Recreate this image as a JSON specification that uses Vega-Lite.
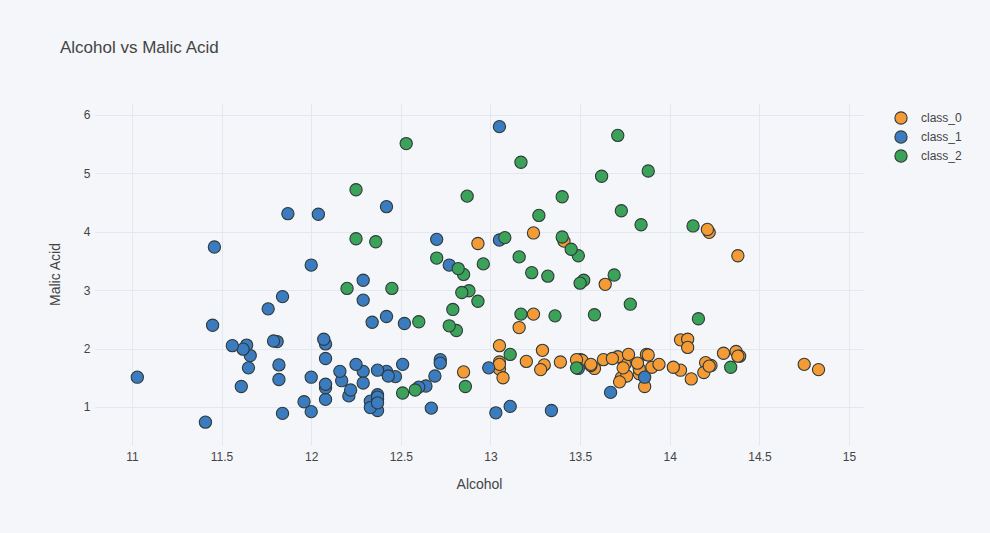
{
  "$schema": "https://vega.github.io/schema/vega-lite/v6.json",
  "width": 768,
  "height": 342,
  "autosize": {"type": "none"},
  "padding": {"left": 95, "top": 103, "right": 127, "bottom": 88},
  "background": "#f4f6fa",
  "title": {
    "text": "Alcohol vs Malic Acid",
    "anchor": "start",
    "frame": "group",
    "dx": -35,
    "offset": 46,
    "font": "Liberation Sans",
    "fontSize": 17,
    "fontWeight": "normal",
    "color": "#444"
  },
  "data": {
    "values": [
      {"alcohol": 14.23, "malic_acid": 1.71, "target": "class_0"},
      {"alcohol": 13.2, "malic_acid": 1.78, "target": "class_0"},
      {"alcohol": 13.16, "malic_acid": 2.36, "target": "class_0"},
      {"alcohol": 14.37, "malic_acid": 1.95, "target": "class_0"},
      {"alcohol": 13.24, "malic_acid": 2.59, "target": "class_0"},
      {"alcohol": 14.2, "malic_acid": 1.76, "target": "class_0"},
      {"alcohol": 14.39, "malic_acid": 1.87, "target": "class_0"},
      {"alcohol": 14.06, "malic_acid": 2.15, "target": "class_0"},
      {"alcohol": 14.83, "malic_acid": 1.64, "target": "class_0"},
      {"alcohol": 13.86, "malic_acid": 1.35, "target": "class_0"},
      {"alcohol": 14.1, "malic_acid": 2.16, "target": "class_0"},
      {"alcohol": 14.12, "malic_acid": 1.48, "target": "class_0"},
      {"alcohol": 13.75, "malic_acid": 1.73, "target": "class_0"},
      {"alcohol": 14.75, "malic_acid": 1.73, "target": "class_0"},
      {"alcohol": 14.38, "malic_acid": 1.87, "target": "class_0"},
      {"alcohol": 13.63, "malic_acid": 1.81, "target": "class_0"},
      {"alcohol": 14.3, "malic_acid": 1.92, "target": "class_0"},
      {"alcohol": 13.83, "malic_acid": 1.57, "target": "class_0"},
      {"alcohol": 14.19, "malic_acid": 1.59, "target": "class_0"},
      {"alcohol": 13.64, "malic_acid": 3.1, "target": "class_0"},
      {"alcohol": 14.06, "malic_acid": 1.63, "target": "class_0"},
      {"alcohol": 12.93, "malic_acid": 3.8, "target": "class_0"},
      {"alcohol": 13.71, "malic_acid": 1.86, "target": "class_0"},
      {"alcohol": 12.85, "malic_acid": 1.6, "target": "class_0"},
      {"alcohol": 13.5, "malic_acid": 1.81, "target": "class_0"},
      {"alcohol": 13.05, "malic_acid": 2.05, "target": "class_0"},
      {"alcohol": 13.39, "malic_acid": 1.77, "target": "class_0"},
      {"alcohol": 13.3, "malic_acid": 1.72, "target": "class_0"},
      {"alcohol": 13.87, "malic_acid": 1.9, "target": "class_0"},
      {"alcohol": 14.02, "malic_acid": 1.68, "target": "class_0"},
      {"alcohol": 13.73, "malic_acid": 1.5, "target": "class_0"},
      {"alcohol": 13.58, "malic_acid": 1.66, "target": "class_0"},
      {"alcohol": 13.68, "malic_acid": 1.83, "target": "class_0"},
      {"alcohol": 13.76, "malic_acid": 1.53, "target": "class_0"},
      {"alcohol": 13.51, "malic_acid": 1.8, "target": "class_0"},
      {"alcohol": 13.48, "malic_acid": 1.81, "target": "class_0"},
      {"alcohol": 13.28, "malic_acid": 1.64, "target": "class_0"},
      {"alcohol": 13.05, "malic_acid": 1.65, "target": "class_0"},
      {"alcohol": 13.07, "malic_acid": 1.5, "target": "class_0"},
      {"alcohol": 14.22, "malic_acid": 3.99, "target": "class_0"},
      {"alcohol": 13.56, "malic_acid": 1.71, "target": "class_0"},
      {"alcohol": 13.41, "malic_acid": 3.84, "target": "class_0"},
      {"alcohol": 13.88, "malic_acid": 1.89, "target": "class_0"},
      {"alcohol": 13.24, "malic_acid": 3.98, "target": "class_0"},
      {"alcohol": 13.05, "malic_acid": 1.77, "target": "class_0"},
      {"alcohol": 14.21, "malic_acid": 4.04, "target": "class_0"},
      {"alcohol": 14.38, "malic_acid": 3.59, "target": "class_0"},
      {"alcohol": 13.9, "malic_acid": 1.68, "target": "class_0"},
      {"alcohol": 14.1, "malic_acid": 2.02, "target": "class_0"},
      {"alcohol": 13.94, "malic_acid": 1.73, "target": "class_0"},
      {"alcohol": 13.05, "malic_acid": 1.73, "target": "class_0"},
      {"alcohol": 13.83, "malic_acid": 1.65, "target": "class_0"},
      {"alcohol": 13.82, "malic_acid": 1.75, "target": "class_0"},
      {"alcohol": 13.77, "malic_acid": 1.9, "target": "class_0"},
      {"alcohol": 13.74, "malic_acid": 1.67, "target": "class_0"},
      {"alcohol": 13.56, "malic_acid": 1.73, "target": "class_0"},
      {"alcohol": 14.22, "malic_acid": 1.7, "target": "class_0"},
      {"alcohol": 13.29, "malic_acid": 1.97, "target": "class_0"},
      {"alcohol": 13.72, "malic_acid": 1.43, "target": "class_0"},
      {"alcohol": 12.37, "malic_acid": 0.94, "target": "class_1"},
      {"alcohol": 12.33, "malic_acid": 1.1, "target": "class_1"},
      {"alcohol": 12.64, "malic_acid": 1.36, "target": "class_1"},
      {"alcohol": 13.67, "malic_acid": 1.25, "target": "class_1"},
      {"alcohol": 12.37, "malic_acid": 1.13, "target": "class_1"},
      {"alcohol": 12.17, "malic_acid": 1.45, "target": "class_1"},
      {"alcohol": 12.37, "malic_acid": 1.21, "target": "class_1"},
      {"alcohol": 13.11, "malic_acid": 1.01, "target": "class_1"},
      {"alcohol": 12.37, "malic_acid": 1.17, "target": "class_1"},
      {"alcohol": 13.34, "malic_acid": 0.94, "target": "class_1"},
      {"alcohol": 12.21, "malic_acid": 1.19, "target": "class_1"},
      {"alcohol": 12.29, "malic_acid": 1.61, "target": "class_1"},
      {"alcohol": 13.86, "malic_acid": 1.51, "target": "class_1"},
      {"alcohol": 13.49, "malic_acid": 1.66, "target": "class_1"},
      {"alcohol": 12.99, "malic_acid": 1.67, "target": "class_1"},
      {"alcohol": 11.96, "malic_acid": 1.09, "target": "class_1"},
      {"alcohol": 11.66, "malic_acid": 1.88, "target": "class_1"},
      {"alcohol": 13.03, "malic_acid": 0.9, "target": "class_1"},
      {"alcohol": 11.84, "malic_acid": 2.89, "target": "class_1"},
      {"alcohol": 12.33, "malic_acid": 0.99, "target": "class_1"},
      {"alcohol": 12.7, "malic_acid": 3.87, "target": "class_1"},
      {"alcohol": 12.0, "malic_acid": 0.92, "target": "class_1"},
      {"alcohol": 12.72, "malic_acid": 1.81, "target": "class_1"},
      {"alcohol": 12.08, "malic_acid": 1.13, "target": "class_1"},
      {"alcohol": 13.05, "malic_acid": 3.86, "target": "class_1"},
      {"alcohol": 11.84, "malic_acid": 0.89, "target": "class_1"},
      {"alcohol": 12.67, "malic_acid": 0.98, "target": "class_1"},
      {"alcohol": 12.16, "malic_acid": 1.61, "target": "class_1"},
      {"alcohol": 11.65, "malic_acid": 1.67, "target": "class_1"},
      {"alcohol": 11.64, "malic_acid": 2.06, "target": "class_1"},
      {"alcohol": 12.08, "malic_acid": 1.33, "target": "class_1"},
      {"alcohol": 12.08, "malic_acid": 1.83, "target": "class_1"},
      {"alcohol": 12.0, "malic_acid": 1.51, "target": "class_1"},
      {"alcohol": 12.69, "malic_acid": 1.53, "target": "class_1"},
      {"alcohol": 12.29, "malic_acid": 2.83, "target": "class_1"},
      {"alcohol": 11.62, "malic_acid": 1.99, "target": "class_1"},
      {"alcohol": 12.47, "malic_acid": 1.52, "target": "class_1"},
      {"alcohol": 11.81, "malic_acid": 2.12, "target": "class_1"},
      {"alcohol": 12.29, "malic_acid": 1.41, "target": "class_1"},
      {"alcohol": 12.37, "malic_acid": 1.07, "target": "class_1"},
      {"alcohol": 12.29, "malic_acid": 3.17, "target": "class_1"},
      {"alcohol": 12.08, "malic_acid": 2.08, "target": "class_1"},
      {"alcohol": 12.6, "malic_acid": 1.34, "target": "class_1"},
      {"alcohol": 12.34, "malic_acid": 2.45, "target": "class_1"},
      {"alcohol": 11.82, "malic_acid": 1.72, "target": "class_1"},
      {"alcohol": 12.51, "malic_acid": 1.73, "target": "class_1"},
      {"alcohol": 12.42, "malic_acid": 2.55, "target": "class_1"},
      {"alcohol": 12.25, "malic_acid": 1.73, "target": "class_1"},
      {"alcohol": 12.72, "malic_acid": 1.75, "target": "class_1"},
      {"alcohol": 12.22, "malic_acid": 1.29, "target": "class_1"},
      {"alcohol": 11.61, "malic_acid": 1.35, "target": "class_1"},
      {"alcohol": 11.46, "malic_acid": 3.74, "target": "class_1"},
      {"alcohol": 12.52, "malic_acid": 2.43, "target": "class_1"},
      {"alcohol": 11.76, "malic_acid": 2.68, "target": "class_1"},
      {"alcohol": 11.41, "malic_acid": 0.74, "target": "class_1"},
      {"alcohol": 12.08, "malic_acid": 1.39, "target": "class_1"},
      {"alcohol": 11.03, "malic_acid": 1.51, "target": "class_1"},
      {"alcohol": 11.82, "malic_acid": 1.47, "target": "class_1"},
      {"alcohol": 12.42, "malic_acid": 1.61, "target": "class_1"},
      {"alcohol": 12.77, "malic_acid": 3.43, "target": "class_1"},
      {"alcohol": 12.0, "malic_acid": 3.43, "target": "class_1"},
      {"alcohol": 11.45, "malic_acid": 2.4, "target": "class_1"},
      {"alcohol": 11.56, "malic_acid": 2.05, "target": "class_1"},
      {"alcohol": 12.42, "malic_acid": 4.43, "target": "class_1"},
      {"alcohol": 13.05, "malic_acid": 5.8, "target": "class_1"},
      {"alcohol": 11.87, "malic_acid": 4.31, "target": "class_1"},
      {"alcohol": 12.07, "malic_acid": 2.16, "target": "class_1"},
      {"alcohol": 12.43, "malic_acid": 1.53, "target": "class_1"},
      {"alcohol": 11.79, "malic_acid": 2.13, "target": "class_1"},
      {"alcohol": 12.37, "malic_acid": 1.63, "target": "class_1"},
      {"alcohol": 12.04, "malic_acid": 4.3, "target": "class_1"},
      {"alcohol": 12.86, "malic_acid": 1.35, "target": "class_2"},
      {"alcohol": 12.88, "malic_acid": 2.99, "target": "class_2"},
      {"alcohol": 12.81, "malic_acid": 2.31, "target": "class_2"},
      {"alcohol": 12.7, "malic_acid": 3.55, "target": "class_2"},
      {"alcohol": 12.51, "malic_acid": 1.24, "target": "class_2"},
      {"alcohol": 12.6, "malic_acid": 2.46, "target": "class_2"},
      {"alcohol": 12.25, "malic_acid": 4.72, "target": "class_2"},
      {"alcohol": 12.53, "malic_acid": 5.51, "target": "class_2"},
      {"alcohol": 13.49, "malic_acid": 3.59, "target": "class_2"},
      {"alcohol": 12.84, "malic_acid": 2.96, "target": "class_2"},
      {"alcohol": 12.93, "malic_acid": 2.81, "target": "class_2"},
      {"alcohol": 13.36, "malic_acid": 2.56, "target": "class_2"},
      {"alcohol": 13.52, "malic_acid": 3.17, "target": "class_2"},
      {"alcohol": 13.62, "malic_acid": 4.95, "target": "class_2"},
      {"alcohol": 12.25, "malic_acid": 3.88, "target": "class_2"},
      {"alcohol": 13.16, "malic_acid": 3.57, "target": "class_2"},
      {"alcohol": 13.88, "malic_acid": 5.04, "target": "class_2"},
      {"alcohol": 12.87, "malic_acid": 4.61, "target": "class_2"},
      {"alcohol": 13.32, "malic_acid": 3.24, "target": "class_2"},
      {"alcohol": 13.08, "malic_acid": 3.9, "target": "class_2"},
      {"alcohol": 13.5, "malic_acid": 3.12, "target": "class_2"},
      {"alcohol": 12.79, "malic_acid": 2.67, "target": "class_2"},
      {"alcohol": 13.11, "malic_acid": 1.9, "target": "class_2"},
      {"alcohol": 13.23, "malic_acid": 3.3, "target": "class_2"},
      {"alcohol": 12.58, "malic_acid": 1.29, "target": "class_2"},
      {"alcohol": 13.17, "malic_acid": 5.19, "target": "class_2"},
      {"alcohol": 13.84, "malic_acid": 4.12, "target": "class_2"},
      {"alcohol": 12.45, "malic_acid": 3.03, "target": "class_2"},
      {"alcohol": 14.34, "malic_acid": 1.68, "target": "class_2"},
      {"alcohol": 13.48, "malic_acid": 1.67, "target": "class_2"},
      {"alcohol": 12.36, "malic_acid": 3.83, "target": "class_2"},
      {"alcohol": 13.69, "malic_acid": 3.26, "target": "class_2"},
      {"alcohol": 12.85, "malic_acid": 3.27, "target": "class_2"},
      {"alcohol": 12.96, "malic_acid": 3.45, "target": "class_2"},
      {"alcohol": 13.78, "malic_acid": 2.76, "target": "class_2"},
      {"alcohol": 13.73, "malic_acid": 4.36, "target": "class_2"},
      {"alcohol": 13.45, "malic_acid": 3.7, "target": "class_2"},
      {"alcohol": 12.82, "malic_acid": 3.37, "target": "class_2"},
      {"alcohol": 13.58, "malic_acid": 2.58, "target": "class_2"},
      {"alcohol": 13.4, "malic_acid": 4.6, "target": "class_2"},
      {"alcohol": 12.2, "malic_acid": 3.03, "target": "class_2"},
      {"alcohol": 12.77, "malic_acid": 2.39, "target": "class_2"},
      {"alcohol": 14.16, "malic_acid": 2.51, "target": "class_2"},
      {"alcohol": 13.71, "malic_acid": 5.65, "target": "class_2"},
      {"alcohol": 13.4, "malic_acid": 3.91, "target": "class_2"},
      {"alcohol": 13.27, "malic_acid": 4.28, "target": "class_2"},
      {"alcohol": 13.17, "malic_acid": 2.59, "target": "class_2"},
      {"alcohol": 14.13, "malic_acid": 4.1, "target": "class_2"}
    ]
  },
  "mark": {
    "type": "point",
    "shape": "circle",
    "filled": true,
    "opacity": 1,
    "size": 150,
    "stroke": "#2f3a3a",
    "strokeWidth": 1.1
  },
  "encoding": {
    "x": {
      "field": "alcohol",
      "type": "quantitative",
      "title": "Alcohol",
      "scale": {"domain": [10.794, 15.078], "nice": false, "zero": false},
      "axis": {"values": [11, 11.5, 12, 12.5, 13, 13.5, 14, 14.5, 15], "format": "~g", "labelPadding": 6, "titlePadding": 15}
    },
    "y": {
      "field": "malic_acid",
      "type": "quantitative",
      "title": "Malic Acid",
      "scale": {"domain": [0.349, 6.205], "nice": false, "zero": false},
      "axis": {"values": [1, 2, 3, 4, 5, 6], "format": "~g", "labelPadding": 5, "titlePadding": 21}
    },
    "color": {
      "field": "target",
      "type": "nominal",
      "scale": {"domain": ["class_0", "class_1", "class_2"], "range": ["#f59b36", "#3a7cbf", "#3ba25a"]},
      "legend": {
        "title": null,
        "orient": "none",
        "legendX": 799,
        "legendY": 8,
        "symbolSize": 150,
        "symbolStrokeColor": "#2f3a3a",
        "symbolStrokeWidth": 1.1,
        "symbolOpacity": 1,
        "labelOffset": 13,
        "rowPadding": 1,
        "labelFont": "Liberation Sans",
        "labelFontSize": 12,
        "labelColor": "#444"
      }
    }
  },
  "config": {
    "view": {"stroke": null},
    "axis": {
      "domain": false,
      "ticks": false,
      "grid": true,
      "gridColor": "#e3e7ef",
      "gridWidth": 1,
      "labelFont": "Liberation Sans",
      "labelFontSize": 12,
      "labelColor": "#444",
      "titleFont": "Liberation Sans",
      "titleFontSize": 14,
      "titleFontWeight": "normal",
      "titleColor": "#444"
    }
  }
}
